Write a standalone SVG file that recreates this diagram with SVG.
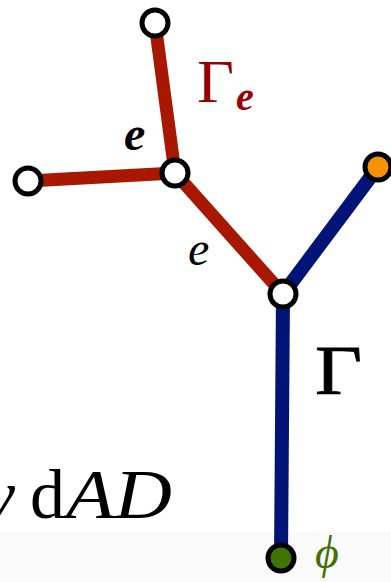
<svg xmlns="http://www.w3.org/2000/svg" width="391" height="582" viewBox="0 0 391 582">
<style>
.red{stroke:#A81800;stroke-width:13;fill:none}
.blue{stroke:#001478;stroke-width:14;fill:none}
.node{stroke:#000;stroke-width:5}
.serif{font-family:"Liberation Serif","DejaVu Serif",serif}
</style>
<rect x="0" y="0" width="391" height="582" fill="#fff"/>
<rect x="0" y="532" width="391" height="50" fill="#fafafa"/>
<g id="connectors">
<line class="red" x1="155" y1="23" x2="175" y2="173"/>
<line class="red" x1="28" y1="181" x2="175" y2="173"/>
<line class="red" x1="175" y1="173" x2="283" y2="294"/>
<line class="blue" x1="283" y1="294" x2="378" y2="167"/>
<line class="blue" x1="283" y1="294" x2="281" y2="558"/>
</g>
<g id="n-top"><circle class="node" cx="155" cy="23" r="13" fill="#fff"/></g>
<g id="n-left"><circle class="node" cx="28" cy="181" r="13" fill="#fff"/></g>
<g id="n-mid"><circle class="node" cx="175" cy="173" r="13" fill="#fff"/></g>
<g id="n-junction"><circle class="node" cx="283" cy="294" r="13" fill="#fff"/></g>
<g id="n-orange"><circle class="node" cx="378" cy="167" r="13" fill="#F79100"/></g>
<g id="n-green"><circle class="node" cx="281" cy="558" r="13" fill="#3F7304"/></g>
<g id="labels">
<text class="serif" x="197" y="102" font-size="61" fill="#990000" textLength="37" lengthAdjust="spacingAndGlyphs">Γ</text>
<text class="serif" x="236" y="110" font-size="40" font-style="italic" font-weight="bold" fill="#990000">e</text>
<text class="serif" x="124" y="150" font-size="48" font-style="italic" font-weight="bold" fill="#000">e</text>
<text class="serif" x="188" y="265" font-size="48" font-style="italic" fill="#000">e</text>
<text class="serif" x="315" y="394" font-size="70" fill="#000" stroke="#000" stroke-width="0.8" textLength="47" lengthAdjust="spacingAndGlyphs">Γ</text>
<text class="serif" x="15" y="518" font-size="70" font-style="italic" fill="#000" text-anchor="end">ν</text>
<text class="serif" x="30" y="518" font-size="70" fill="#000">d</text>
<text class="serif" x="66" y="518" font-size="70" font-style="italic" fill="#000" textLength="106" lengthAdjust="spacingAndGlyphs">AD</text>
<text class="serif" x="315" y="568" font-size="46" font-style="italic" fill="#3F7304">ϕ</text>
</g>
</svg>
